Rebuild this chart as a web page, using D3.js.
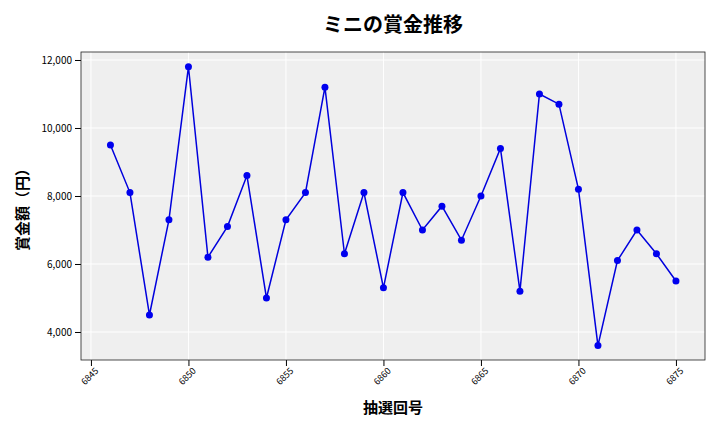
<!DOCTYPE html>
<html><head><meta charset="utf-8">
<script src="https://cdn.jsdelivr.net/npm/d3@7"></script>
<style>body{margin:0;background:#fff}text{font-family:"Noto Sans CJK JP","Noto Sans",sans-serif}</style>
</head><body><svg id="c" width="720" height="432"></svg>
<script>
var draws = d3.range(6846, 6876);
var prizes = [9500,8100,4500,7300,11800,6200,7100,8600,5000,7300,8100,11200,6300,8100,5300,8100,7000,7700,6700,8000,9400,5200,11000,10700,8200,3600,6100,7000,6300,5500];
var xTicks = [6845,6850,6855,6860,6865,6870,6875];
var yTicks = [4000,6000,8000,10000,12000];

var svg = d3.select('#c'),
  L = 81, R = 705, T = 52, B = 360;
var x = d3.scaleLinear().domain([6844.49, 6876.49]).range([L, R]);
var y = d3.scaleLinear().domain([3176, 12235]).range([B, T]);

svg.append('rect').attr('x', L).attr('y', T).attr('width', R - L).attr('height', B - T).attr('fill', '#efefef');
// grid
svg.selectAll('.gx').data(xTicks).enter().append('line')
  .attr('x1', x).attr('x2', x).attr('y1', T).attr('y2', B).attr('stroke', '#fff').attr('stroke-width', 1);
svg.selectAll('.gy').data(yTicks).enter().append('line')
  .attr('y1', y).attr('y2', y).attr('x1', L).attr('x2', R).attr('stroke', '#fff').attr('stroke-width', 1);

var xa = svg.append('g').attr('transform', 'translate(0,' + B + ')')
  .call(d3.axisBottom(x).tickValues(xTicks).tickFormat(d3.format('d')).tickSizeOuter(0));
xa.selectAll('text').attr('transform', 'rotate(-45)').style('text-anchor', 'end')
  .attr('dx', '-0.3em').attr('dy', '0.5em').style('font-size', '9px');
var ya = svg.append('g').attr('transform', 'translate(' + L + ',0)')
  .call(d3.axisLeft(y).tickValues(yTicks).tickFormat(d3.format(',')).tickSizeOuter(0));
ya.selectAll('text').style('font-size', '10px');
svg.selectAll('.domain').remove();
svg.append('rect').attr('x', L).attr('y', T).attr('width', R - L).attr('height', B - T)
  .attr('fill', 'none').attr('stroke', '#222').attr('stroke-width', 0.8);

var line = d3.line().x(function (d, i) { return x(draws[i]); }).y(function (d) { return y(d); });
svg.append('path').datum(prizes).attr('d', line).attr('fill', 'none').attr('stroke', '#0000dd').attr('stroke-width', 1.5);
svg.selectAll('circle').data(prizes).enter().append('circle')
  .attr('cx', function (d, i) { return x(draws[i]); }).attr('cy', y).attr('r', 3.5).attr('fill', '#0000ee');

svg.append('text').attr('x', 393).attr('y', 32).attr('text-anchor', 'middle')
  .style('font-size', '20px').style('font-weight', 'bold').text('ミニの賞金推移');
svg.append('text').attr('x', 393).attr('y', 413).attr('text-anchor', 'middle')
  .style('font-size', '15px').style('font-weight', 'bold').text('抽選回号');
svg.append('text').attr('transform', 'translate(28,206) rotate(-90)').attr('text-anchor', 'middle')
  .style('font-size', '15px').style('font-weight', 'bold').text('賞金額（円）');
</script></body></html>
